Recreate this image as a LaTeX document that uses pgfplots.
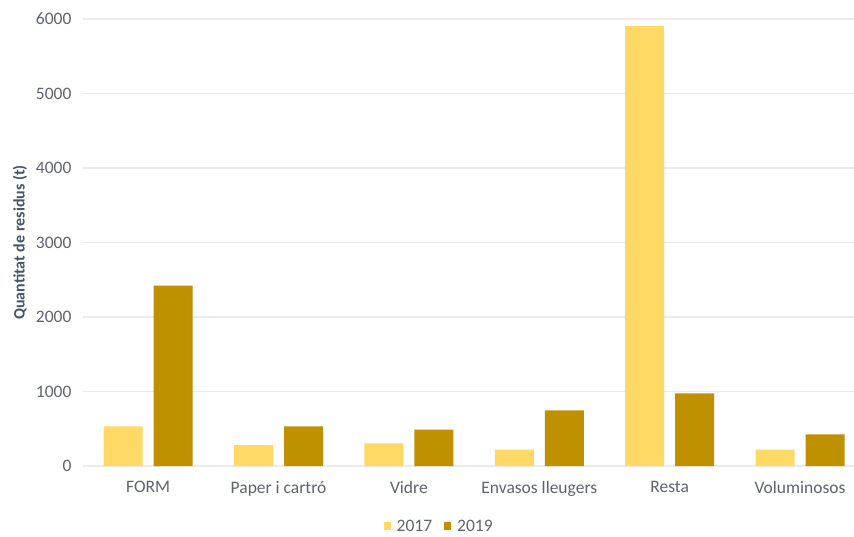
\documentclass[border=0pt]{standalone}
\usepackage{pgfplots}
\pgfplotsset{compat=1.18}
\usepackage{fontspec}
\setmainfont{Carlito}
\definecolor{c17}{HTML}{FFD966}
\definecolor{c19}{HTML}{BF9000}
\definecolor{tickc}{HTML}{5E636E}
\definecolor{labc}{HTML}{44546A}
\definecolor{gridc}{HTML}{EBEBEB}
\begin{document}
\begin{tikzpicture}
\useasboundingbox (-83pt,-70pt) rectangle (771pt,466pt);
\begin{axis}[
  at={(0pt,0pt)}, anchor=south west,
  scale only axis, width=771pt, height=447pt,
  ymin=0, ymax=6000, xmin=-0.5, xmax=5.414,
  ybar, bar width=39pt,
  xtick={0,1,2,3,4,5},
  xticklabels={FORM, Paper i cartró, Vidre, Envasos lleugers, Resta, Voluminosos},
  ytick={0,1000,2000,3000,4000,5000,6000},
  ymajorgrids, grid style={gridc, line width=1.5pt},
  axis line style={draw=none},
  major tick length=0pt,
  tick label style={font=\fontsize{17.5}{17.5}\selectfont, text=tickc},
  yticklabel style={xshift=-8pt},
  xticklabel style={yshift=-12pt},
  /pgf/number format/assume math mode=true,
  scaled y ticks=false,
  yticklabel={\pgfmathprintnumber[fixed,1000 sep={}]{\tick}},
  every axis y label/.style={at={(axis description cs:-0.0817,0.5)}, rotate=90, anchor=center},
  ylabel={\fontsize{16}{16}\selectfont\bfseries Quantitat de residus (t)},
  ylabel style={text=labc},
  legend style={at={(axis description cs:0.462,-0.135)}, anchor=center, draw=none, fill=none,
    legend columns=2, font=\fontsize{17.5}{17.5}\selectfont, text=tickc,
    /tikz/every even column/.append style={column sep=10pt}},
]
\addplot[fill=c17, draw=none, bar shift=-25pt,
  legend image code/.code={\fill[c17] (0pt,-4pt) rectangle (7pt,4pt); \path (0pt,0pt) -- (11pt,0pt);}]
  coordinates {(0,533) (1,282) (2,305) (3,219) (4,5906) (5,219)};
\addplot[fill=c19, draw=none, bar shift=25pt,
  legend image code/.code={\fill[c19] (0pt,-4pt) rectangle (7pt,4pt); \path (0pt,0pt) -- (11pt,0pt);}]
  coordinates {(0,2420) (1,533) (2,487) (3,747) (4,975) (5,425)};
\legend{2017, 2019}
\end{axis}
\end{tikzpicture}
\end{document}
